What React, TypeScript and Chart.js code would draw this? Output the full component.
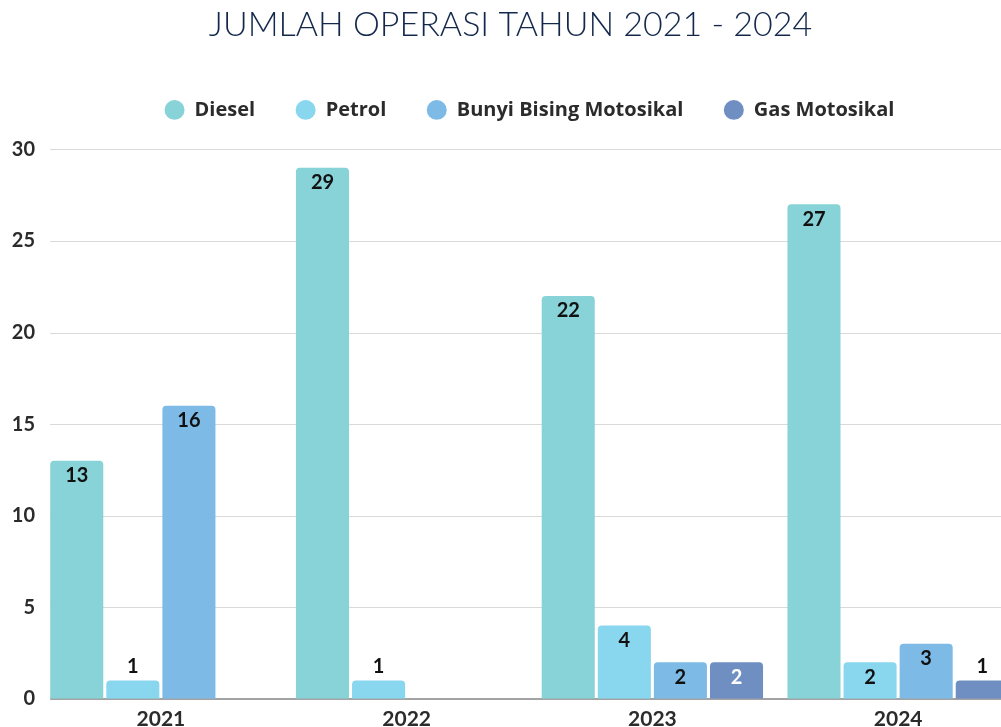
import React, { useEffect, useRef } from "react";
import { Chart, registerables } from "chart.js";

Chart.register(...registerables);

const titleText = "JUMLAH OPERASI TAHUN 2021 - 2024";
const categories = ["2021", "2022", "2023", "2024"];
const seriesNames = ["Diesel", "Petrol", "Bunyi Bising Motosikal", "Gas Motosikal"];
const dieselValues = [13, 29, 22, 27];
const petrolValues = [1, 1, 4, 2];
const bunyiValues = [16, null, 2, 3];
const gasValues = [null, null, 2, 1];
const yTickValues = [0, 5, 10, 15, 20, 25, 30];
const seriesColors = ["#88d3d7", "#89d6ef", "#7dbbe6", "#6f8fc2"];
const labelColors = ["#111111", "#111111", "#111111", "#ffffff"];

const gridPlugin = {
  id: "gridFromBars",
  beforeDatasetsDraw(chart: any) {
    const { ctx, scales } = chart;
    const first = chart.getDatasetMeta(0).data[0];
    if (!first) return;
    const left = first.x - first.width / 2;
    const right = chart.width;
    ctx.save();
    yTickValues.forEach((t) => {
      const py = Math.round(scales.y.getPixelForValue(t));
      ctx.beginPath();
      if (t === 0) {
        ctx.strokeStyle = "#a3a3a3";
        ctx.lineWidth = 2;
        ctx.moveTo(left, py);
        ctx.lineTo(right, py);
      } else {
        ctx.strokeStyle = "#d9d9d9";
        ctx.lineWidth = 1;
        ctx.moveTo(left, py + 0.5);
        ctx.lineTo(right, py + 0.5);
      }
      ctx.stroke();
    });
    ctx.restore();
  },
};

const valueLabelPlugin = {
  id: "valueLabels",
  afterDatasetsDraw(chart: any) {
    const ctx = chart.ctx;
    ctx.save();
    ctx.font = "bold 20px Lato";
    ctx.textAlign = "center";
    ctx.textBaseline = "middle";
    chart.data.datasets.forEach((ds: any, di: number) => {
      const meta = chart.getDatasetMeta(di);
      meta.data.forEach((bar: any, i: number) => {
        const v = ds.data[i];
        if (v == null) return;
        const { x, y, base } = bar.getProps(["x", "y", "base"], true);
        const h = base - y;
        const inside = h > 30;
        ctx.fillStyle = inside ? labelColors[di] : "#111111";
        ctx.fillText(String(v), x, inside ? y + 15 : y - 14);
      });
    });
    ctx.restore();
  },
};

export default function App() {
  const canvasRef = useRef<HTMLCanvasElement | null>(null);

  useEffect(() => {
    if (!canvasRef.current) return;
    const allValues = [dieselValues, petrolValues, bunyiValues, gasValues];
    const chart = new Chart(canvasRef.current, {
      type: "bar",
      data: {
        labels: categories,
        datasets: seriesNames.map((name, i) => ({
          label: name,
          data: allValues[i],
          backgroundColor: seriesColors[i],
          borderWidth: 0,
          borderRadius: 4,
          borderSkipped: "start",
          categoryPercentage: 0.913,
          barPercentage: 0.946,
        })),
      },
      options: {
        animation: false,
        responsive: true,
        maintainAspectRatio: false,
        layout: { padding: { left: 0, right: 29, top: 0, bottom: 9 } },
        plugins: {
          title: {
            display: true,
            text: titleText,
            color: "#13284b",
            font: { family: "Lato", size: 34, weight: "300", lineHeight: 1.2 },
            padding: { top: 5, bottom: 13.6 },
          },
          subtitle: {
            display: true,
            text: "",
            weight: 500,
            font: { size: 10, lineHeight: 1 },
            padding: { top: 0, bottom: 9.5 },
          } as any,
          legend: {
            display: true,
            position: "top",
            fullSize: false,
            labels: {
              usePointStyle: true,
              pointStyle: "circle",
              boxHeight: 14,
              pointStyleWidth: 20,
              padding: 40.5,
              color: "#2b2b2b",
              font: { family: "Open Sans", size: 20, weight: "bold" },
            },
          },
          tooltip: { enabled: false },
        },
        scales: {
          x: {
            grid: { display: false, drawTicks: false },
            border: { display: false },
            ticks: {
              color: "#2b2b2b",
              padding: 8,
              font: { family: "Lato", size: 21, weight: "bold" },
            },
          },
          y: {
            min: 0,
            max: 30,
            grid: { display: false, drawTicks: false },
            border: { display: false },
            afterFit(scale: any) {
              scale.width = 38;
            },
            afterBuildTicks(scale: any) {
              scale.ticks = yTickValues.map((v) => ({ value: v }));
            },
            ticks: {
              color: "#2b2b2b",
              padding: 3,
              font: { family: "Lato", size: 20, weight: "bold" },
            },
          },
        },
      },
      plugins: [gridPlugin, valueLabelPlugin],
    });
    return () => chart.destroy();
  }, []);

  return (
    <div
      style={{
        position: "absolute",
        left: 0,
        top: 0,
        width: "1001px",
        height: "727px",
        overflow: "hidden",
        background: "#ffffff",
      }}
    >
      <div style={{ position: "relative", width: "1050px", height: "749px" }}>
        <canvas ref={canvasRef} />
      </div>
    </div>
  );
}
